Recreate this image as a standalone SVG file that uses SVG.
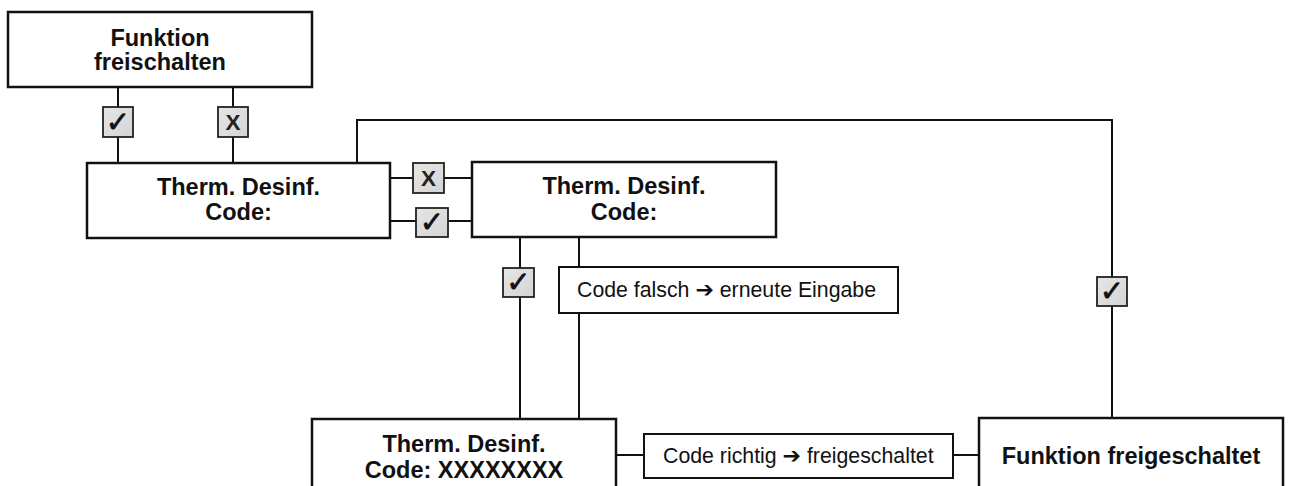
<svg xmlns="http://www.w3.org/2000/svg" width="1290" height="486" viewBox="0 0 1290 486">
  <style>
    .node { fill: #fff; stroke: #111; stroke-width: 2.5; }
    .note { fill: #fff; stroke: #111; stroke-width: 2; }
    .chk { fill: url(#chkFill); stroke: #222; stroke-width: 1.8; }
    .wire { fill: none; stroke: #111; stroke-width: 2; }
    .title { font-family: "Liberation Sans", Arial, sans-serif; font-weight: bold; font-size: 23.5px; fill: #111; text-anchor: middle; }
    .label { font-family: "Liberation Sans", Arial, sans-serif; font-size: 21.3px; fill: #111; }
    .arrow { font-family: "DejaVu Sans", sans-serif; font-weight: bold; font-size: 22px; }
    .tick { font-family: "DejaVu Sans", sans-serif; font-size: 29px; fill: #111; stroke: #111; stroke-width: 0.7; text-anchor: middle; }
    .cross { font-family: "Liberation Sans", Arial, sans-serif; font-weight: bold; font-size: 22.5px; fill: #222; text-anchor: middle; }
  </style>
  <defs>
    <linearGradient id="chkFill" x1="0" y1="0" x2="1" y2="1">
      <stop offset="0" stop-color="#e6e6e6"/>
      <stop offset="1" stop-color="#d4d4d4"/>
    </linearGradient>
  </defs>
  <rect width="1290" height="486" fill="#fff"/>

  <!-- connectors -->
  <g id="connectors" class="wire">
    <path d="M118 87 V107 M118 137 V163"/>
    <path d="M233 87 V107 M233 137 V163"/>
    <path d="M390 178 H413 M444 178 H472"/>
    <path d="M390 221 H416 M448 221 H472"/>
    <path d="M520 237 V268 M520 297 V419"/>
    <path d="M579 237 V267 M579 313 V419"/>
    <path d="M357 163 V120 H1112 V277 M1112 306 V418"/>
    <path d="M616 455 H644 M953 455 H979"/>
  </g>

  <!-- decision boxes -->
  <g id="chk-a"><rect class="chk" x="103" y="107" width="30" height="30"/><text class="tick" x="118" y="132">✓</text></g>
  <g id="chk-b"><rect class="chk" x="218" y="107" width="30" height="30"/><text class="cross" x="233" y="130">X</text></g>
  <g id="chk-c"><rect class="chk" x="413" y="163" width="31" height="30"/><text class="cross" x="428.5" y="186">X</text></g>
  <g id="chk-d"><rect class="chk" x="416" y="208" width="32" height="29"/><text class="tick" x="432" y="232">✓</text></g>
  <g id="chk-e"><rect class="chk" x="503" y="268" width="31" height="29"/><text class="tick" x="518.5" y="292">✓</text></g>
  <g id="chk-f"><rect class="chk" x="1097" y="277" width="30" height="29"/><text class="tick" x="1112" y="301">✓</text></g>

  <!-- nodes -->
  <g id="funktion-freischalten">
    <rect class="node" x="8" y="12" width="304" height="75"/>
    <text class="title" x="160" y="46">Funktion</text>
    <text class="title" x="160" y="70">freischalten</text>
  </g>
  <g id="code-eingabe">
    <rect class="node" x="87" y="163" width="303" height="75"/>
    <text class="title" x="238.5" y="195">Therm. Desinf.</text>
    <text class="title" x="238.5" y="220">Code:</text>
  </g>
  <g id="code-eingabe-2">
    <rect class="node" x="472" y="162" width="304" height="75"/>
    <text class="title" x="624" y="194">Therm. Desinf.</text>
    <text class="title" x="624" y="220">Code:</text>
  </g>
  <g id="code-falsch">
    <rect class="note" x="559" y="267" width="339" height="46"/>
    <text class="label" x="577" y="297">Code falsch <tspan class="arrow">➔</tspan> erneute Eingabe</text>
  </g>
  <g id="code-gesetzt">
    <rect class="node" x="312" y="419" width="304" height="80"/>
    <text class="title" x="464" y="452">Therm. Desinf.</text>
    <text class="title" x="464" y="478">Code: XXXXXXXX</text>
  </g>
  <g id="code-richtig">
    <rect class="note" x="644" y="434" width="309" height="44"/>
    <text class="label" x="663" y="463">Code richtig <tspan class="arrow">➔</tspan> freigeschaltet</text>
  </g>
  <g id="funktion-freigeschaltet">
    <rect class="node" x="979" y="418" width="304" height="80"/>
    <text class="title" x="1131" y="464">Funktion freigeschaltet</text>
  </g>
</svg>
